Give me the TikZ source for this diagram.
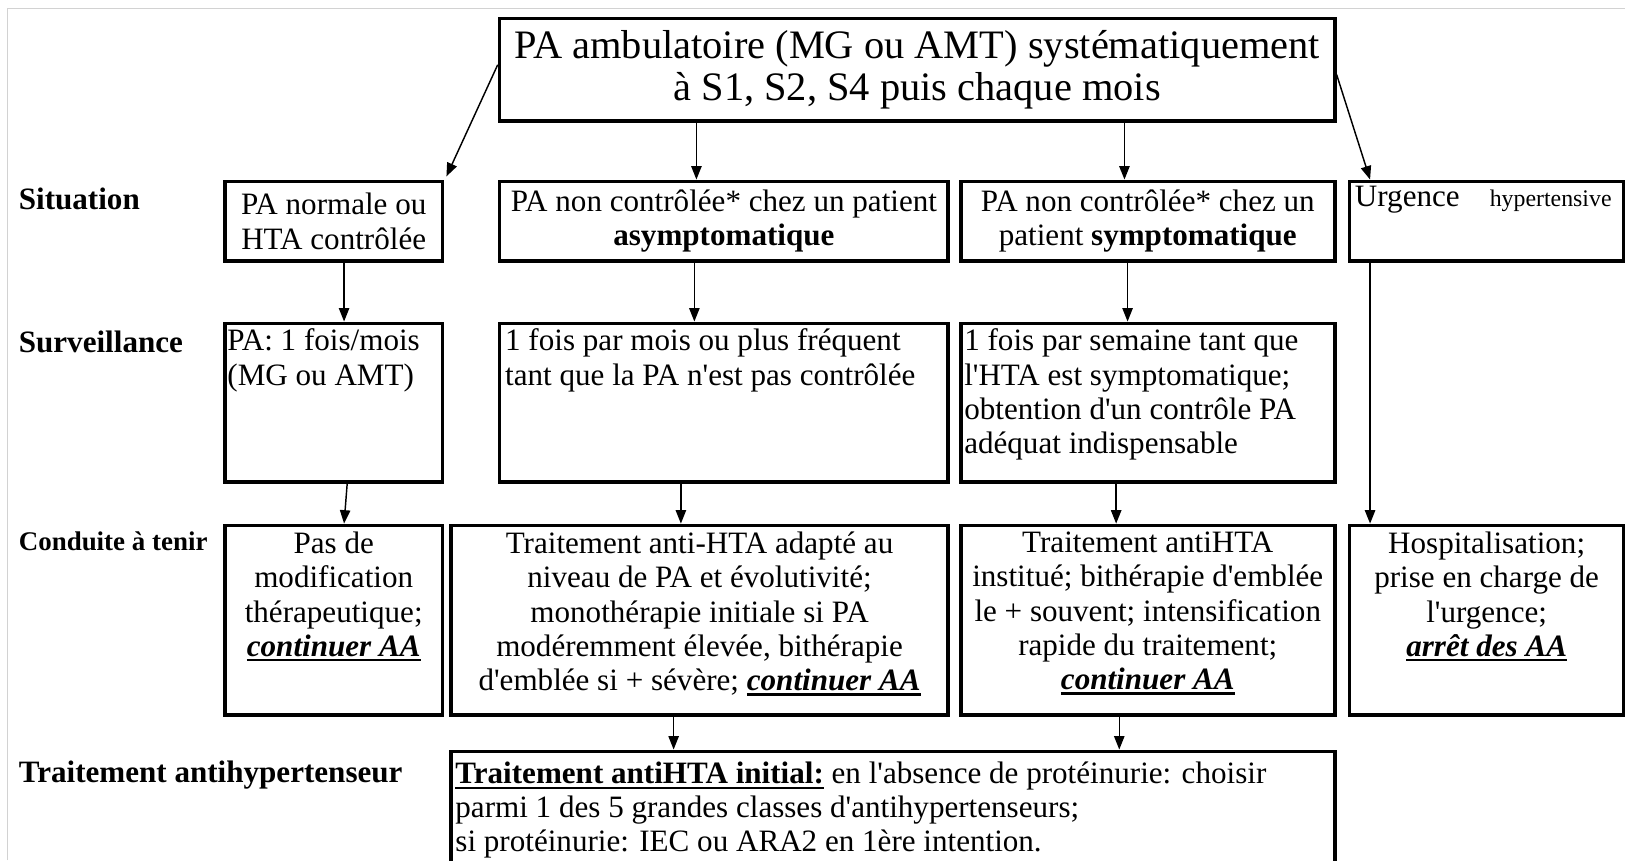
\documentclass[tikz,border=0pt]{standalone}
\usepackage{fontspec}
\setmainfont{Liberation Serif}[Ligatures=TeXOff]
\usetikzlibrary{arrows.meta}
\newcommand{\myul}[1]{\leavevmode\setbox0=\hbox{#1}\rlap{\copy0}\rule[-5pt]{\wd0}{2.4pt}}
\newcommand{\bfit}[1]{\myul{\textbf{\textit{#1}}}}
\begin{document}
\begin{tikzpicture}[x=1pt,y=-1pt,
  box/.style={draw, line width=3.5pt, rectangle, inner sep=0pt},
  txt/.style={inner sep=0pt, font=\fontsize{30}{33}\selectfont},
  tl/.style={txt, align=left, anchor=north west},
  tc/.style={txt, align=center, anchor=north},
  lab/.style={inner sep=0pt, anchor=base west, font=\bfseries\fontsize{30}{33}\selectfont},
  arr/.style={-{Triangle[length=13pt,width=10pt]}, line width=1.4pt}]
\useasboundingbox (0,0) rectangle (1568,830);
\fill[white] (0,0) rectangle (1568,830);
\draw[gray!35, line width=1pt] (7,830) -- (7,8) -- (1568,8);

% top box
\node[box, minimum width=806pt, minimum height=99pt, align=center,
      font=\fontsize{39}{41}\selectfont] (top) at (885,67.5)
  {PA ambulatoire (MG ou AMT) systématiquement\\à S1, S2, S4 puis chaque mois};

% row labels
\node[lab] (lsit) at (18,202) {Situation};
\node[lab] (lsur) at (18,340) {Surveillance};
\node[lab, font=\bfseries\fontsize{26}{30}\selectfont] (lcon) at (18,531) {Conduite à tenir};
\node[lab] (ltra) at (18,755) {Traitement antihypertenseur};

% Situation row
\node[box, txt, align=center, minimum width=210pt, minimum height=77pt] (A1) at (322,213.5)
  {PA normale ou\\HTA contrôlée};
\node[box, txt, align=center, minimum width=433pt, minimum height=77pt] (B1) at (698.5,213.5)
  {PA non contrôlée* chez un patient\\\textbf{asymptomatique}};
\node[box, txt, align=center, minimum width=361pt, minimum height=77pt] (C1) at (1107.5,213.5)
  {PA non contrôlée* chez un\\patient \textbf{symptomatique}};
\node[box, minimum width=265pt, minimum height=77pt] (D1) at (1434.5,213.5) {};
\node[tl] (D1t) at ([xshift=7pt,yshift=-6pt]D1.north west)
  {Urgence\hspace{29pt}{\fontsize{23}{26}\selectfont hypertensive}};

% Surveillance row
\node[box, minimum width=210pt, minimum height=153pt] (A2) at (322,388.5) {};
\node[tl] (A2t) at ([xshift=4pt,yshift=-7pt]A2.north west)
  {PA: 1 fois/mois\\(MG ou AMT)};
\node[box, minimum width=433pt, minimum height=153pt] (B2) at (698.5,388.5) {};
\node[tl] (B2t) at ([xshift=7pt,yshift=-7pt]B2.north west)
  {1 fois par mois ou plus fréquent\\tant que la PA n'est pas contrôlée};
\node[box, minimum width=361pt, minimum height=153pt] (C2) at (1107.5,388.5) {};
\node[tl] (C2t) at ([xshift=5pt,yshift=-7pt]C2.north west)
  {1 fois par semaine tant que\\l'HTA est symptomatique;\\obtention d'un contrôle PA\\adéquat indispensable};

% Conduite row
\node[box, minimum width=210pt, minimum height=183pt] (A3) at (322,598.5) {};
\node[tc] (A3t) at ([yshift=-8pt]A3.north)
  {Pas de\\modification\\thérapeutique;\\\bfit{continuer AA}};
\node[box, minimum width=480pt, minimum height=183pt] (B3) at (675,598.5) {};
\node[tc] (B3t) at ([yshift=-8pt]B3.north)
  {Traitement anti-HTA adapté au\\niveau de PA et évolutivité;\\monothérapie initiale si PA\\modéremment élevée, bithérapie\\d'emblée si + sévère; \bfit{continuer AA}};
\node[box, minimum width=361pt, minimum height=183pt] (C3) at (1107.5,598.5) {};
\node[tc] (C3t) at ([yshift=-8pt]C3.north)
  {Traitement antiHTA\\institué; bithérapie d'emblée\\le + souvent; intensification\\rapide du traitement;\\\bfit{continuer AA}};
\node[box, minimum width=265pt, minimum height=183pt] (D3) at (1434.5,598.5) {};
\node[tc] (D3t) at ([yshift=-8pt]D3.north)
  {Hospitalisation;\\prise en charge de\\l'urgence;\\\bfit{arrêt des AA}};

% Traitement box
\node[box, minimum width=853pt, minimum height=155pt] (E) at (861.5,802.5) {};
\node[tl, font=\fontsize{30}{32.5}\selectfont] (Et) at ([xshift=6pt,yshift=-12pt]E.north west)
  {\myul{\textbf{Traitement antiHTA initial:}} en l'absence de protéinurie: choisir\\parmi 1 des 5 grandes classes d'antihypertenseurs;\\si protéinurie: IEC ou ARA2 en 1ère intention.};

% arrows
\draw[arr] ([yshift=5pt]top.west) -- ([xshift=2pt,yshift=3pt]A1.north east);
\draw[arr] (top.south -| 672,0) -- (B1.north -| 672,0);
\draw[arr] (top.south -| 1085,0) -- (C1.north -| 1085,0);
\draw[arr] ([yshift=-4.5pt]top.east) -- (D1.north -| 1322,0);
\draw[arr] (A1.south -| 332,0) -- (A2.north -| 332,0);
\draw[arr] (B1.south -| 670,0) -- (B2.north -| 670,0);
\draw[arr] (C1.south -| 1088,0) -- (C2.north -| 1088,0);
\draw[arr] (D1.south -| 1322,0) -- (D3.north -| 1322,0);
\draw[arr] (A2.south -| 335,0) -- (A3.north -| 332,0);
\draw[arr] (B2.south -| 657,0) -- (B3.north -| 657,0);
\draw[arr] (C2.south -| 1077,0) -- (C3.north -| 1077,0);
\draw[arr] (B3.south -| 650,0) -- (E.north -| 650,0);
\draw[arr] (C3.south -| 1080,0) -- (E.north -| 1080,0);
\end{tikzpicture}
\end{document}
